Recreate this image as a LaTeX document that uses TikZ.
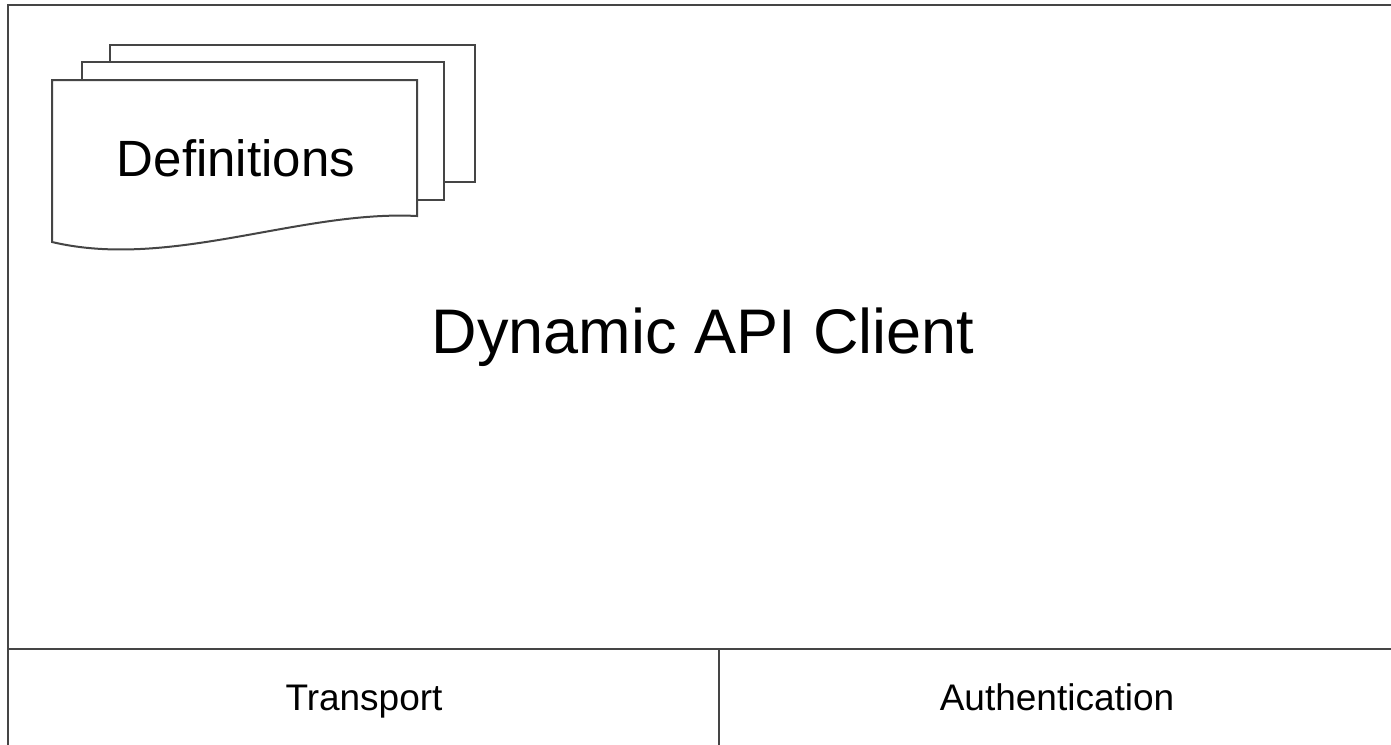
\documentclass[tikz,border=0pt]{standalone}
\usepackage{fontspec}
\setmainfont{Liberation Sans}
\usepackage{tikz}
\usetikzlibrary{positioning}
\definecolor{linegray}{HTML}{454545}

\tikzset{
  frame/.style={draw=linegray, line width=2pt},
  sheet/.style={draw=linegray, line width=2pt, fill=white},
  label/.style={anchor=base, inner sep=0pt, text=black}
}

\begin{document}
\begin{tikzpicture}[x=1pt, y=-1pt]
\clip (0,0) rectangle (1391,744);
\fill[white] (0,0) rectangle (1391,744);

% outer box and bottom band
\draw[frame] (8,5) rectangle (1400,760);
\draw[frame] (8,649) -- (1400,649);
\draw[frame] (719,649) -- (719,760);

% stacked definition sheets
\foreach \x/\y/\r/\b in {110/45/475/182, 82/62/444/200}
	\draw[sheet] (\x,\y) rectangle (\r,\b);

\draw[sheet] (52,80) -- (417,80) -- (417,216)
	.. controls (300,210) and (170,270) .. (52,242) -- cycle;

\node[label, font=\fontsize{51}{60}\selectfont] (defs) at (236,176) {Definitions};

\node[label, font=\fontsize{63}{72}\selectfont] (client) at (703,353) {Dynamic API Client};

\node[label, font=\fontsize{37}{44}\selectfont] (transport) at (364,710) {Transport};
\node[label, font=\fontsize{37}{44}\selectfont] (auth) at (1057,710) {Authentication};

\end{tikzpicture}
\end{document}
